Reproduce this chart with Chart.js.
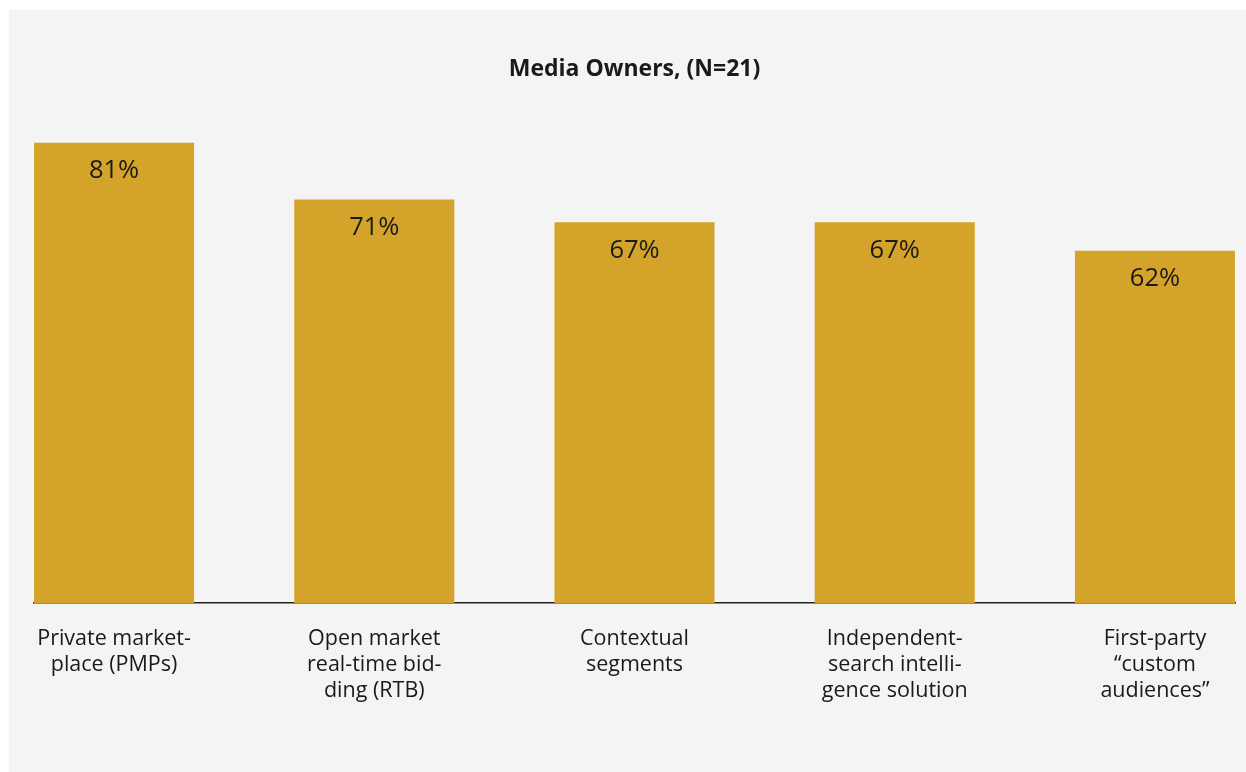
<!DOCTYPE html>
<html>
<head>
<meta charset="utf-8">
<script src="https://cdn.jsdelivr.net/npm/chart.js@4"></script>
<style>
  body { margin: 0; background: #ffffff; }
  #panel { position: absolute; left: 9px; top: 10px; width: 1237px; height: 762px; background: #f4f4f4; }
</style>
</head>
<body>
<div id="panel"><canvas id="myChart" width="1237" height="762"></canvas></div>
<script>
// chart data
const categories = [
    ['Private market-', 'place (PMPs)'],
    ['Open market', 'real-time bid-', 'ding (RTB)'],
    ['Contextual', 'segments'],
    ['Independent-', 'search intelli-', 'gence solution'],
    ['First-party', '\u201ccustom', 'audiences\u201d']
];
const values = [81, 71, 67, 67, 62];
const chartTitle = 'Media Owners, (N=21)';

const barColor = '#d4a32a';
const textColor = '#1a1a1a';

// draw the % values inside the top of each bar
const valueLabels = {
    id: 'valueLabels',
    afterDatasetsDraw(chart) {
        const ctx = chart.ctx;
        const meta = chart.getDatasetMeta(0);
        ctx.save();
        ctx.font = '25.5px "Open Sans"';
        ctx.fillStyle = textColor;
        ctx.textAlign = 'center';
        ctx.textBaseline = 'middle';
        meta.data.forEach((bar, i) => {
            ctx.fillText(values[i] + '%', bar.x, bar.y + 28);
        });
        ctx.restore();
    }
};

const ctx = document.getElementById('myChart');
new Chart(ctx, {
    type: 'bar',
    data: {
        datasets: [{
            data: values.map((v, i) => ({ x: i, y: v })),
            backgroundColor: barColor,
            categoryPercentage: 1,
            barPercentage: 0.615
        }]
    },
    options: {
        responsive: false,
        animation: false,
        layout: { padding: { left: 25, right: 11, top: 0, bottom: 45 } },
        plugins: {
            legend: { display: false },
            tooltip: { enabled: false },
            title: {
                display: true,
                text: chartTitle,
                color: textColor,
                font: { family: 'Open Sans', size: 23, weight: 'bold', lineHeight: 1.2 },
                padding: { top: 46, bottom: 8 }
            }
        },
        scales: {
            x: {
                type: 'linear',
                offset: false,
                min: -0.3077,
                max: 4.3077,
                grid: { display: false, drawTicks: false, offset: false },
                border: { display: true, color: '#222222', width: 1.5 },
                ticks: {
                    stepSize: 1,
                    includeBounds: false,
                    autoSkip: false,
                    maxRotation: 0,
                    padding: 23,
                    color: textColor,
                    font: { family: 'Open Sans', size: 21.5, lineHeight: 1.21 },
                    callback: (v) => categories[v]
                }
            },
            y: {
                display: false,
                min: 0,
                max: 90
            }
        }
    },
    plugins: [valueLabels]
});
</script>
</body>
</html>
